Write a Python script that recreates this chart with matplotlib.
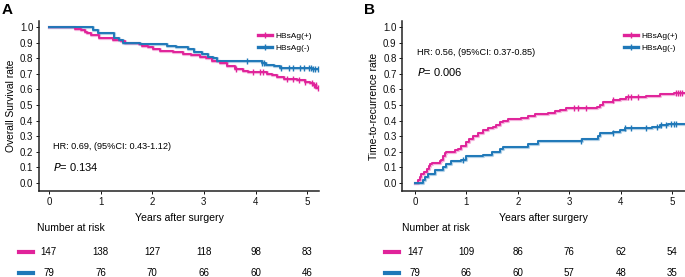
import numpy as np
import matplotlib
matplotlib.use('Agg')
import matplotlib.pyplot as plt
from matplotlib.lines import Line2D

plt.rcParams['font.family'] = ['Liberation Sans', 'DejaVu Sans']

PINK = '#E0239A'
BLUE = '#1F78B8'

groups = ['HBsAg(+)', 'HBsAg(-)']

# Panel A - overall survival, step times and survival after each step
os_pos_t = [0.50, 0.62, 0.69, 0.74, 0.82, 0.98, 1.24, 1.40, 1.47, 1.74, 1.80, 1.92, 2.02, 2.15,
            2.40, 2.60, 2.76, 2.92, 3.05, 3.15, 3.32, 3.44, 3.60, 3.76, 3.86, 4.22, 4.32, 4.41,
            4.55, 4.80, 4.95, 5.05, 5.12, 5.18]
os_pos_s = [0.99, 0.98, 0.97, 0.96, 0.95, 0.93, 0.92, 0.91, 0.90, 0.89, 0.88, 0.87, 0.86, 0.85,
            0.84, 0.83, 0.82, 0.81, 0.80, 0.78, 0.77, 0.75, 0.73, 0.72, 0.71, 0.70, 0.69, 0.68,
            0.67, 0.66, 0.65, 0.64, 0.63, 0.61]
os_pos_cens = [3.62, 3.95, 4.08, 4.14, 4.60, 4.72, 4.85, 4.95, 5.10, 5.14, 5.17, 5.20]

os_neg_t = [0.85, 0.96, 1.27, 1.35, 1.44, 1.76, 2.28, 2.47, 2.70, 2.80, 2.96, 3.08, 3.18, 3.25,
            4.12, 4.20, 4.35, 4.47, 5.10]
os_neg_s = [0.98, 0.96, 0.93, 0.92, 0.90, 0.89, 0.88, 0.87, 0.86, 0.84, 0.83, 0.81, 0.80, 0.78,
            0.77, 0.76, 0.75, 0.74, 0.73]
os_neg_cens = [3.83, 4.12, 4.16, 4.50, 4.64, 4.72, 4.86, 4.93, 5.03, 5.08, 5.12, 5.16, 5.20]

# Panel B - cumulative recurrence
ttr_pos_t = [0.06, 0.09, 0.12, 0.17, 0.23, 0.27, 0.30, 0.34, 0.48, 0.51, 0.55, 0.58, 0.61, 0.77,
             0.84, 0.90, 1.00, 1.06, 1.13, 1.22, 1.32, 1.42, 1.52, 1.58, 1.65, 1.71, 1.81, 2.07,
             2.20, 2.33, 2.59, 2.72, 2.81, 2.94, 3.53, 3.59, 3.66, 3.85, 3.98, 4.11, 4.50, 4.76,
             5.03]
ttr_pos_s = [0.02, 0.04, 0.06, 0.07, 0.09, 0.11, 0.12, 0.13, 0.14, 0.15, 0.17, 0.19, 0.20, 0.21,
             0.22, 0.24, 0.26, 0.28, 0.30, 0.32, 0.34, 0.35, 0.36, 0.37, 0.39, 0.40, 0.41, 0.42,
             0.43, 0.44, 0.45, 0.46, 0.47, 0.48, 0.49, 0.50, 0.52, 0.53, 0.54, 0.55, 0.56, 0.57,
             0.58]
ttr_pos_cens = [3.10, 3.17, 3.33, 3.85, 4.14, 4.20, 4.33, 5.08, 5.12, 5.16, 5.20]

ttr_neg_t = [0.16, 0.20, 0.25, 0.38, 0.54, 0.61, 0.71, 0.90, 1.00, 1.32, 1.49, 1.65, 1.71, 2.20,
             2.39, 3.24, 3.56, 3.60, 3.85, 3.98, 4.08, 4.61, 4.77, 4.92]
ttr_neg_s = [0.02, 0.04, 0.06, 0.08, 0.10, 0.12, 0.14, 0.15, 0.17, 0.18, 0.20, 0.22, 0.23, 0.25,
             0.27, 0.28, 0.30, 0.32, 0.33, 0.34, 0.35, 0.36, 0.37, 0.38]
ttr_neg_cens = [0.93, 3.22, 3.84, 4.08, 4.20, 4.50, 4.71, 4.78, 4.88, 4.98, 5.03, 5.08]

risk_years = [0, 1, 2, 3, 4, 5]
os_risk_pos = [147, 138, 127, 118, 98, 83]
os_risk_neg = [79, 76, 70, 66, 60, 46]
ttr_risk_pos = [147, 109, 86, 76, 62, 54]
ttr_risk_neg = [79, 66, 60, 57, 48, 35]

fig = plt.figure(figsize=(6.85, 2.77), dpi=100)
axA = fig.add_axes([0.057, 0.3105, 0.4088, 0.6137])
axB = fig.add_axes([0.587, 0.3105, 0.4131, 0.6137])


def km(ax, t, s, cens, start, color, t_end=5.23):
    tt = np.concatenate([[0], t, [t_end]])
    ss = np.concatenate([[start], s, [s[-1]]])
    ax.step(tt, ss, where='post', color=color, lw=2.3, alpha=0.35, zorder=2)
    ax.step(tt, ss, where='post', color=color, lw=1.4, zorder=3)
    idx = np.searchsorted(tt, cens, side='right') - 1
    ax.plot(cens, ss[idx], ls='none', marker='|', ms=5, mew=1.0, color=color, zorder=4)


def style(ax, xmin, xmax):
    ax.set_xlim(xmin, xmax)
    ax.set_ylim(-0.052, 1.04)
    ax.set_xticks(risk_years)
    ax.set_yticks(np.arange(0, 1.01, 0.1))
    ax.set_yticklabels([f'{v:.1f}' for v in np.arange(0, 1.01, 0.1)])
    for sp in ['top', 'right']:
        ax.spines[sp].set_visible(False)
    for sp in ['left', 'bottom']:
        ax.spines[sp].set_linewidth(1.1)
        ax.spines[sp].set_color('#222222')
    ax.tick_params(labelsize=7, length=2.5, width=0.7, pad=1.5, colors='#111111')
    ax.set_xlabel('Years after surgery', fontsize=7.6, labelpad=5)
    handles = [Line2D([], [], color=PINK, lw=2.4, marker='+', ms=4, mew=1),
               Line2D([], [], color=BLUE, lw=2.4, marker='+', ms=4, mew=1)]
    ax.legend(handles, groups, loc='upper right', bbox_to_anchor=(1.0, 0.98), frameon=False,
              fontsize=6, handlelength=1.6, handletextpad=0.4, labelspacing=0.55)


km(axA, os_pos_t, os_pos_s, os_pos_cens, 1.0, PINK)
km(axA, os_neg_t, os_neg_s, os_neg_cens, 1.0, BLUE)
style(axA, -0.19, 5.23)
axA.set_ylabel('Overall Survival rate', fontsize=7.4, labelpad=3)
axA.text(0.08, 0.237, 'HR: 0.69, (95%CI: 0.43-1.12)', fontsize=6.6, va='center')
axA.text(0.08, 0.10, r'$\it{P}$= 0.134', fontsize=8, va='center')

km(axB, ttr_pos_t, ttr_pos_s, ttr_pos_cens, 0.0, PINK)
km(axB, ttr_neg_t, ttr_neg_s, ttr_neg_cens, 0.0, BLUE)
style(axB, -0.25, 5.25)
axB.set_ylabel('Time-to-recurrence rate', fontsize=7.4, labelpad=3)
axB.text(0.04, 0.84, 'HR: 0.56, (95%CI: 0.37-0.85)', fontsize=6.6, va='center')
axB.text(0.04, 0.71, r'$\it{P}$= 0.006', fontsize=8, va='center')

fig.text(0.003, 0.965, 'A', fontsize=11, fontweight='bold', va='center')
fig.text(0.532, 0.965, 'B', fontsize=11, fontweight='bold', va='center')

# number at risk tables
row_y = [1 - 252 / 277, 1 - 273 / 277]
for ax, pos, neg, mark_x, head_x in [(axA, os_risk_pos, os_risk_neg, 26 / 685, 37 / 685),
                                     (axB, ttr_risk_pos, ttr_risk_neg, 392 / 685, 402 / 685)]:
    fig.text(head_x, 1 - 228 / 277, 'Number at risk', fontsize=7.5, va='center')
    trans = matplotlib.transforms.blended_transform_factory(ax.transData, fig.transFigure)
    for vals, y, col in [(pos, row_y[0], PINK), (neg, row_y[1], BLUE)]:
        fig.add_artist(Line2D([mark_x - 7 / 685, mark_x + 7 / 685], [y, y], color=col, lw=3,
                              transform=fig.transFigure))
        for yr, v in zip(risk_years, vals):
            ax.text(yr, y, str(v), transform=trans, fontsize=7, ha='center', va='center',
                    clip_on=False)

fig.savefig('out.png', dpi=100)
